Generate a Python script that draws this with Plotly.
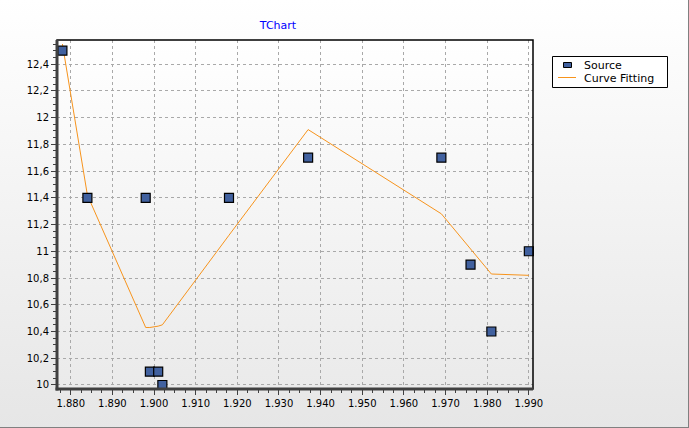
import base64
import plotly.graph_objects as go

# Data
source_x = [1878, 1884, 1898, 1899, 1901, 1902, 1918, 1937, 1969, 1976, 1981, 1990]
source_y = [12.5, 11.4, 11.4, 10.1, 10.1, 10.0, 11.4, 11.7, 11.7, 10.9, 10.4, 11.0]
fit_y = [12.55, 11.42, 10.43, 10.43, 10.44, 10.45, 11.12, 11.91, 11.28, 11.02, 10.83, 10.82]
x_ticks = [1880, 1890, 1900, 1910, 1920, 1930, 1940, 1950, 1960, 1970, 1980, 1990]
y_ticks = [10, 10.2, 10.4, 10.6, 10.8, 11, 11.2, 11.4, 11.6, 11.8, 12, 12.2, 12.4]
legend_names = ["Source", "Curve Fitting"]

W, H = 689, 428
L, R, T, B = 57, 533, 40, 389
pw, ph = R - L, B - T

MARKER_COLOR = "#41619f"
LINE_COLOR = "#f7941d"
GRID_COLOR = "#a9a9a9"


def px(x):
    return (x - L) / pw


def py(y):
    return (B - y) / ph


def grad_uri(c1, c2):
    svg = ('<svg xmlns="http://www.w3.org/2000/svg" width="100" height="100" preserveAspectRatio="none">'
           '<defs><linearGradient id="g" x1="0" y1="0" x2="0" y2="1">'
           f'<stop offset="0" stop-color="{c1}"/><stop offset="1" stop-color="{c2}"/>'
           '</linearGradient></defs><rect width="100" height="100" fill="url(#g)"/></svg>')
    return "data:image/svg+xml;base64," + base64.b64encode(svg.encode()).decode()


fig = go.Figure()
fig.add_trace(go.Scatter(
    x=source_x, y=fit_y, mode="lines", name=legend_names[1],
    line=dict(color=LINE_COLOR, width=1), cliponaxis=False))
fig.add_trace(go.Scatter(
    x=source_x, y=source_y, mode="markers", name=legend_names[0],
    marker=dict(symbol="square", size=9, color=MARKER_COLOR,
                line=dict(color="#000000", width=1.2)), cliponaxis=False))

shapes = [
    dict(type="rect", xref="paper", yref="paper", x0=0, x1=1, y0=0, y1=1,
         line=dict(color="#000000", width=1.5), layer="above"),
    dict(type="line", xref="paper", yref="paper", x0=0, x1=0, y0=-0.004, y1=1,
         line=dict(color="#404040", width=3), layer="above"),
    dict(type="line", xref="paper", yref="paper", x0=-0.003, x1=1, y0=0, y1=0,
         line=dict(color="#404040", width=3), layer="above"),
    # outer frame
    dict(type="line", xref="paper", yref="paper", x0=px(W - 0.5), x1=px(W - 0.5),
         y0=py(0), y1=py(H), line=dict(color="#808080", width=1), layer="below"),
    dict(type="line", xref="paper", yref="paper", x0=px(0), x1=px(W),
         y0=py(H - 0.5), y1=py(H - 0.5), line=dict(color="#808080", width=1), layer="below"),
    # legend box
    dict(type="rect", xref="paper", yref="paper", x0=px(552.5), x1=px(667.5),
         y0=py(87.5), y1=py(56.5), fillcolor="#ffffff",
         line=dict(color="#000000", width=1), layer="above"),
    # legend marker
    dict(type="rect", xref="paper", yref="paper", x0=px(563.5), x1=px(571.5),
         y0=py(67.5), y1=py(62.5), fillcolor=MARKER_COLOR,
         line=dict(color="#000000", width=1), layer="above"),
    # legend line
    dict(type="line", xref="paper", yref="paper", x0=px(558), x1=px(576),
         y0=py(77.5), y1=py(77.5), line=dict(color=LINE_COLOR, width=1), layer="above"),
]

annotations = [
    dict(text=legend_names[0], xref="paper", yref="paper", x=px(582), y=py(65.5),
         xanchor="left", yanchor="middle", showarrow=False,
         font=dict(size=11, family="DejaVu Sans", color="#000000")),
    dict(text=legend_names[1], xref="paper", yref="paper", x=px(582), y=py(78.5),
         xanchor="left", yanchor="middle", showarrow=False,
         font=dict(size=11, family="DejaVu Sans", color="#000000")),
]

fig.update_layout(
    width=W, height=H,
    margin=dict(l=L, r=W - R, t=T, b=H - B, pad=0),
    paper_bgcolor="#ffffff",
    plot_bgcolor="rgba(0,0,0,0)",
    separators=",.",
    font=dict(family="DejaVu Sans", size=10, color="#000000"),
    title=dict(text="TChart", x=px(278), xref="paper", xanchor="center",
               y=1 - 25 / H, yanchor="middle",
               font=dict(color="#0000ff", size=11, family="DejaVu Sans")),
    showlegend=False,
    xaxis=dict(range=[1876.7, 1991.0], tickvals=x_ticks, tickformat=",d",
               showgrid=True, gridcolor=GRID_COLOR, griddash="3px,3px", gridwidth=1,
               ticks="outside", ticklen=5, tickcolor="#404040", tickwidth=1,
               showline=False, zeroline=False, automargin=False,
               minor=dict(dtick=2.5, tick0=1880, ticks="outside", ticklen=3,
                          tickcolor="#404040", showgrid=False)),
    yaxis=dict(range=[9.97, 12.58], tickvals=y_ticks,
               showgrid=True, gridcolor=GRID_COLOR, griddash="3px,3px", gridwidth=1,
               ticks="outside", ticklen=5, tickcolor="#404040", tickwidth=1,
               showline=False, zeroline=False, automargin=False,
               minor=dict(dtick=0.05, tick0=10, ticks="outside", ticklen=3,
                          tickcolor="#404040", showgrid=False)),
    images=[
        dict(source=grad_uri("#ffffff", "#e6e6e6"), xref="paper", yref="paper",
             x=-L / pw, y=1 + T / ph, sizex=W / pw, sizey=H / ph,
             xanchor="left", yanchor="top", sizing="stretch", layer="below"),
        dict(source=grad_uri("#ffffff", "#eaeaea"), xref="paper", yref="paper",
             x=0, y=1, sizex=1, sizey=1,
             xanchor="left", yanchor="top", sizing="stretch", layer="below"),
    ],
    shapes=shapes,
    annotations=annotations,
)

fig.write_html("out.html", config={"displayModeBar": False},
               post_script="document.body.style.margin='0';")
